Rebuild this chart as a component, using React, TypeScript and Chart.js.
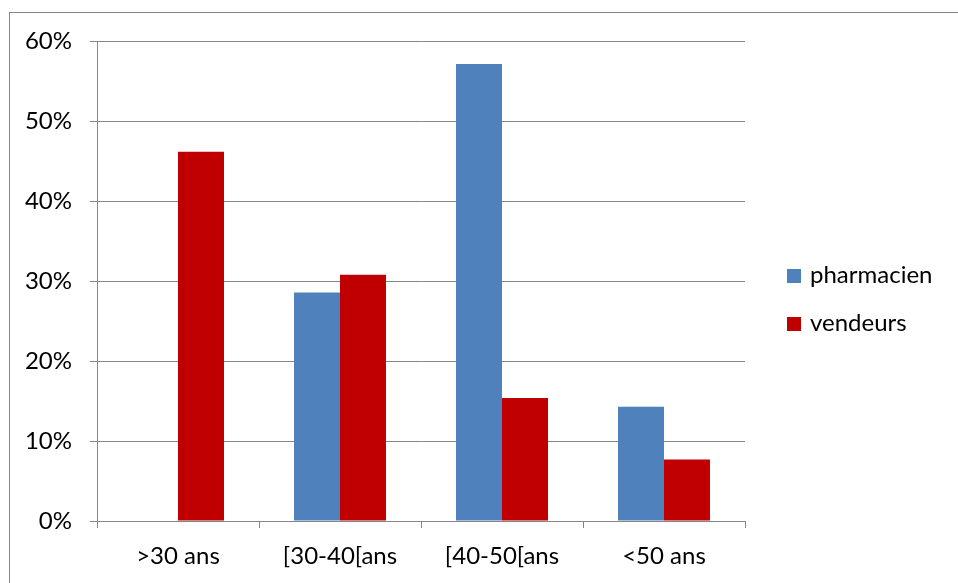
import React, { useEffect, useRef } from "react";
import { Chart, registerables } from "chart.js";

Chart.register(...registerables);

const categories = [">30 ans", "[30-40[ans", "[40-50[ans", "<50 ans"];
const pharmacien = [0, 0.2857, 0.5714, 0.1429];
const vendeurs = [0.4615, 0.3077, 0.1538, 0.0769];
const seriesNames = ["pharmacien", "vendeurs"];
const seriesColors = ["#4F81BD", "#C00000"];

const FONT = "Lato, 'Open Sans', sans-serif";
const GRID = "#868686";

// Outer frame around the whole chart and a legend on the right side.
const framePlugin = {
  id: "frame",
  beforeDraw(chart: Chart) {
    const { ctx } = chart;
    ctx.save();
    ctx.strokeStyle = GRID;
    ctx.lineWidth = 1;
    ctx.strokeRect(9.5, 12.5, 1200, 1200);
    ctx.restore();
  },
  afterDraw(chart: Chart) {
    const { ctx } = chart;
    ctx.save();
    ctx.font = `24px ${FONT}`;
    ctx.textBaseline = "alphabetic";
    ctx.textAlign = "left";
    seriesNames.forEach((name, i) => {
      const top = 269 + i * 48;
      ctx.fillStyle = seriesColors[i];
      ctx.fillRect(787, top, 14, 14);
      ctx.fillStyle = "#000";
      ctx.fillText(name, 810, top + 14);
    });
    ctx.restore();
  },
};

export default function App() {
  const canvasRef = useRef<HTMLCanvasElement | null>(null);

  useEffect(() => {
    if (!canvasRef.current) return;
    const chart = new Chart(canvasRef.current, {
      type: "bar",
      data: {
        labels: categories,
        datasets: [
          { label: seriesNames[0], data: pharmacien, backgroundColor: seriesColors[0], borderWidth: 0 },
          { label: seriesNames[1], data: vendeurs, backgroundColor: seriesColors[1], borderWidth: 0 },
        ],
      },
      options: {
        animation: false,
        responsive: false,
        maintainAspectRatio: false,
        datasets: { bar: { categoryPercentage: 0.568, barPercentage: 1 } },
        layout: { padding: { left: 0, top: 41, right: 213, bottom: 0 } },
        plugins: {
          legend: { display: false },
          tooltip: { enabled: false },
        },
        scales: {
          x: {
            offset: true,
            grid: {
              offset: true,
              drawOnChartArea: false,
              drawTicks: true,
              tickLength: 7,
              color: GRID,
              lineWidth: 1,
            },
            border: { display: true, color: GRID, width: 1 },
            ticks: { color: "#000", font: { family: FONT, size: 24 }, padding: 14, maxRotation: 0 },
            afterFit(scale: any) {
              scale.height = 62;
            },
          },
          y: {
            min: 0,
            max: 0.6,
            grid: { color: GRID, lineWidth: 1, drawTicks: true, tickLength: 7 },
            border: { display: true, color: GRID, width: 1 },
            ticks: {
              stepSize: 0.1,
              color: "#000",
              font: { family: FONT, size: 24 },
              padding: 18,
              callback: (v: any) => `${Math.round(Number(v) * 100)}%`,
            },
            afterFit(scale: any) {
              scale.width = 97;
            },
          },
        },
      },
      plugins: [framePlugin],
    });
    return () => chart.destroy();
  }, []);

  return (
    <div style={{ position: "absolute", left: 0, top: 0, width: 958, height: 583, background: "#fff" }}>
      <canvas ref={canvasRef} width={958} height={583} style={{ width: 958, height: 583, display: "block" }} />
    </div>
  );
}
